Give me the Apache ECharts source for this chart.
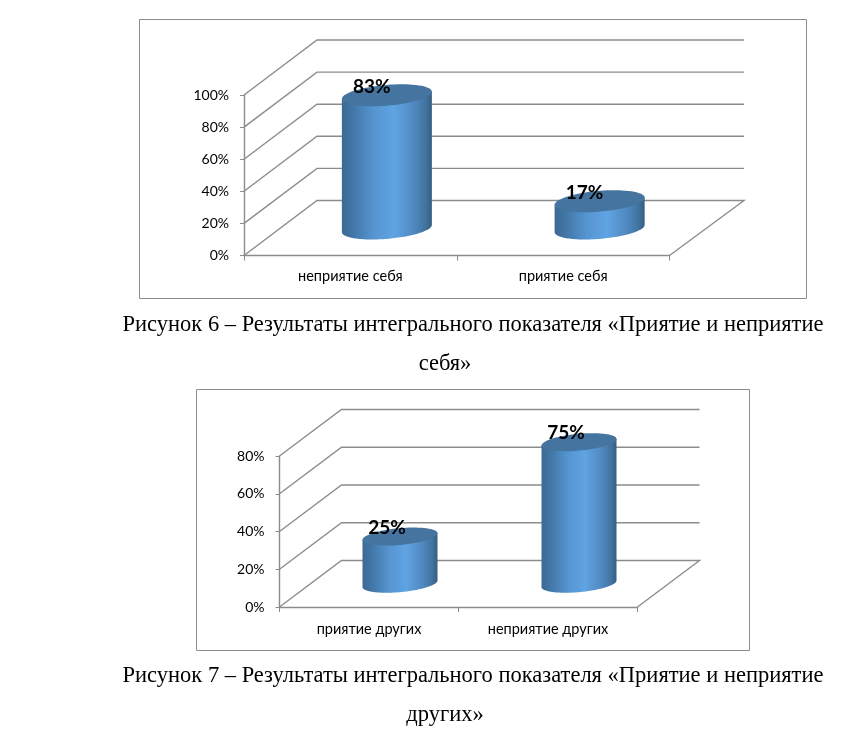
<!DOCTYPE html>
<html><head><meta charset="utf-8">
<style>html,body{margin:0;padding:0;background:#fff}#c{width:847px;height:744px}</style>
<script src="https://cdn.jsdelivr.net/npm/echarts@6/dist/echarts.min.js"></script>
</head><body><div id="c"></div>
<script>
const categoriesSelf = ['неприятие себя', 'приятие себя'];
const valuesSelf = [83, 17];
const ticksSelf = [0, 20, 40, 60, 80, 100];
const categoriesOthers = ['приятие других', 'неприятие других'];
const valuesOthers = [25, 75];
const ticksOthers = [0, 20, 40, 60, 80];
const captionSelf = ['Рисунок 6 – Результаты интегрального показателя «Приятие и неприятие', 'себя»'];
const captionOthers = ['Рисунок 7 – Результаты интегрального показателя «Приятие и неприятие', 'других»'];

const LINE = '#8c8c8c';
const SANS = 'Lato, "Noto Sans", sans-serif';
const CAPTION_FONT = '22.5px "Liberation Serif", serif';
const bodyFill = new echarts.graphic.LinearGradient(0, 0, 1, 0, [
  {offset: 0, color: '#3b6992'}, {offset: 0.12, color: '#4276a6'},
  {offset: 0.35, color: '#5594d0'}, {offset: 0.58, color: '#60a4e3'},
  {offset: 0.8, color: '#5089c0'}, {offset: 0.93, color: '#41739f'}, {offset: 1, color: '#365d82'}
]);

function wallSeries(idx, dx, dy, extra) {
  return {
    type: 'custom', xAxisIndex: idx, yAxisIndex: idx, silent: true, clip: false, z: 1,
    data: idx === 0 ? ticksSelf.map(t => [0, t]) : ticksOthers.map(t => [0, t]),
    encode: {x: 0, y: 1},
    renderItem(params, api) {
      const cs = params.coordSys, y = api.coord([0, api.value(1)])[1];
      const bx = cs.x + dx, rx = cs.x + cs.width;
      const pts = [[cs.x, y], [bx, y - dy], [rx + dx + extra, y - dy]];
      if (api.value(1) === 0) pts.push([rx, y]);
      return {type: 'polyline', shape: {points: pts},
        style: {stroke: LINE, lineWidth: 1.4, fill: null}};
    }
  };
}

function ellipse(cx, cy, a, b, k, from, to) {
  const out = [], n = 72;
  for (let i = 0; i <= n; i++) {
    const t = from + (to - from) * i / n;
    out.push([cx + a * Math.cos(t), cy + b * Math.sin(t) - k * Math.cos(t)]);
  }
  return out;
}

function cylinderSeries(idx, values, dx, dy, a, b, k, lx, ly) {
  return {
    type: 'custom', xAxisIndex: idx, yAxisIndex: idx, silent: true, clip: false, z: 3,
    data: values.map((v, i) => [i, v]),
    encode: {x: 0, y: 1},
    renderItem(params, api) {
      const i = api.value(0), v = api.value(1);
      const base = api.coord([i, 0]), top = api.coord([i, v]);
      const cx = base[0] + dx / 2, by = base[1] - dy / 2, ty = top[1] - dy / 2;
      const lower = ellipse(cx, by, a, b, k, 0, Math.PI);
      const body = [[cx + a, ty - k]].concat(lower).concat([[cx - a, ty + k]]);
      return {type: 'group', children: [
        {type: 'polygon', shape: {points: body}, style: {fill: bodyFill}},
        {type: 'polygon', shape: {points: ellipse(cx, ty, a, b, k, 0, 2 * Math.PI)}, style: {fill: '#44749f'}},
        {type: 'text', z2: 10, style: {text: v + '%', x: cx + lx, y: ty + ly, align: 'center', verticalAlign: 'middle',
          font: 'bold 19px ' + SANS, fill: '#000'}}
      ]};
    }
  };
}

function xAxis(idx, cats, margin) {
  return {type: 'category', gridIndex: idx, data: cats,
    axisLine: {lineStyle: {color: LINE, width: 1.4}},
    axisTick: {show: true, length: 5, lineStyle: {color: LINE}},
    axisLabel: {fontFamily: SANS, fontSize: 14.5, color: '#000', margin},
    splitLine: {show: false}};
}
function yAxis(idx, max) {
  return {type: 'value', gridIndex: idx, min: 0, max, interval: 20,
    axisLine: {show: true, lineStyle: {color: LINE, width: 1.4}},
    axisTick: {show: true, length: 4, lineStyle: {color: LINE}},
    axisLabel: {fontFamily: SANS, fontSize: 14, color: '#000', margin: 15, padding: [2, 0, 0, 0], formatter: '{value}%'},
    splitLine: {show: false}};
}
function frame(x, y, w, h) {
  return {type: 'rect', silent: true, z: -10, shape: {x, y, width: w, height: h},
    style: {fill: '#fff', stroke: '#8c8c8c', lineWidth: 1}};
}
function caption(text, x, y) {
  return {type: 'text', silent: true, x, y, style: {text, font: CAPTION_FONT, fill: '#000', align: 'center', verticalAlign: 'middle'}};
}

const chart = echarts.init(document.getElementById('c'), null, {renderer: 'canvas'});
chart.setOption({
  animation: false, backgroundColor: '#fff',
  graphic: [
    frame(139.5, 19.5, 667, 279), frame(196.5, 389.5, 553, 261),
    caption(captionSelf[0], 473, 325), caption(captionSelf[1], 445, 364),
    caption(captionOthers[0], 473, 676), caption(captionOthers[1], 445, 715)
  ],
  grid: [
    {left: 244, top: 95, width: 425.5, height: 160.5},
    {left: 279.5, top: 456, width: 358, height: 151}
  ],
  xAxis: [xAxis(0, categoriesSelf, 13), xAxis(1, categoriesOthers, 15)],
  yAxis: [yAxis(0, 100), yAxis(1, 80)],
  series: [
    wallSeries(0, 73, 55, 1.5), cylinderSeries(0, valuesSelf, 73, 54, 45, 10.4, 3.6, -15, -8),
    wallSeries(1, 62, 46.5, 0), cylinderSeries(1, valuesOthers, 62, 46.5, 37.5, 8.4, 3.3, -13, -9)
  ]
});
</script></body></html>
